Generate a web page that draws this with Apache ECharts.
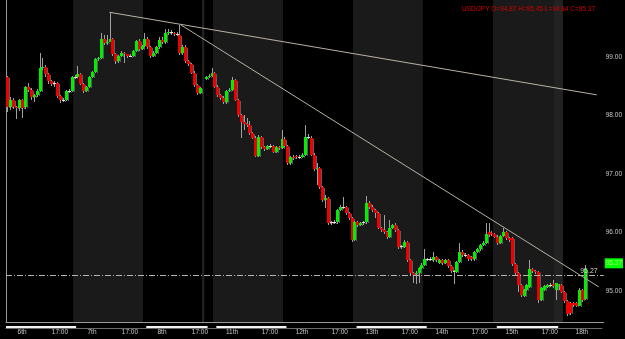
<!DOCTYPE html>
<html>
<head>
<meta charset="utf-8">
<script src="https://cdn.jsdelivr.net/npm/echarts@6/dist/echarts.min.js"></script>
<style>
  html, body { margin: 0; background: #000; }
  #chart { width: 625px; height: 339px; }
</style>
</head>
<body>
<div id="chart"></div>
<script>
// USD/JPY hourly candles [open, close, low, high], one array per day band
const day6 = [
  [98.66, 98.14, 98.06, 98.67], [98.14, 98.27, 98.09, 98.31], [98.27, 98.14, 98.10, 98.29],
  [98.14, 98.12, 97.93, 98.16], [98.12, 98.26, 98.08, 98.28], [98.26, 98.12, 97.95, 98.28],
  [98.14, 98.48, 98.10, 98.50], [98.48, 98.44, 98.40, 98.55], [98.44, 98.31, 98.27, 98.46],
  [98.31, 98.35, 98.23, 98.37], [98.35, 98.42, 98.32, 98.45], [98.42, 98.80, 98.40, 99.07],
  [98.80, 98.83, 98.78, 98.98], [98.83, 98.70, 98.66, 98.86], [98.70, 98.58, 98.53, 98.72],
  [98.58, 98.54, 98.50, 98.60], [98.54, 98.55, 98.48, 98.58], [98.55, 98.33, 98.30, 98.57],
  [98.33, 98.26, 98.21, 98.34], [98.26, 98.27, 98.22, 98.30], [98.27, 98.42, 98.25, 98.44],
  [98.42, 98.42, 98.39, 98.45], [98.42, 98.65, 98.40, 98.67]
];
const day7 = [
  [98.65, 98.66, 98.62, 98.69], [98.66, 98.70, 98.64, 98.84], [98.70, 98.54, 98.52, 98.72],
  [98.54, 98.42, 98.38, 98.55], [98.42, 98.48, 98.40, 98.50], [98.48, 98.65, 98.46, 98.67],
  [98.65, 98.74, 98.63, 98.76], [98.74, 98.96, 98.72, 98.98], [98.96, 98.98, 98.93, 99.00],
  [98.98, 99.31, 98.97, 99.40], [99.31, 99.24, 99.20, 99.38], [99.24, 99.26, 99.20, 99.38],
  [99.26, 99.30, 99.25, 99.76], [99.30, 99.05, 99.02, 99.32], [99.05, 98.92, 98.88, 99.07],
  [98.92, 99.01, 98.90, 99.03], [99.01, 99.06, 99.00, 99.10], [99.06, 99.04, 98.90, 99.08],
  [99.04, 99.02, 98.98, 99.05], [99.02, 99.02, 98.99, 99.05], [99.02, 99.10, 99.00, 99.12],
  [99.10, 99.27, 99.08, 99.29], [99.27, 99.13, 99.10, 99.30], [99.13, 99.18, 99.11, 99.20]
];
const day8 = [
  [99.18, 99.30, 99.16, 99.40], [99.30, 99.17, 99.14, 99.33], [99.17, 99.02, 98.98, 99.19],
  [99.02, 99.06, 98.99, 99.10], [99.06, 99.16, 99.04, 99.18], [99.16, 99.29, 99.14, 99.34],
  [99.29, 99.25, 99.21, 99.33], [99.25, 99.40, 99.22, 99.47], [99.40, 99.42, 99.37, 99.47],
  [99.42, 99.41, 99.38, 99.45], [99.41, 99.39, 99.36, 99.43], [99.39, 99.38, 99.35, 99.42],
  [99.38, 99.06, 99.03, 99.55], [99.06, 99.17, 99.03, 99.20], [99.17, 98.92, 98.89, 99.20],
  [98.92, 98.88, 98.84, 98.95], [98.88, 98.73, 98.70, 98.90], [98.73, 98.51, 98.48, 98.75],
  [98.51, 98.38, 98.34, 98.53], [98.38, 98.46, 98.36, 98.48], null,
  [98.62, 98.66, 98.60, 98.68], [98.66, 98.68, 98.63, 98.70], [98.68, 98.72, 98.66, 98.81]
];
const day11 = [
  [98.72, 98.49, 98.46, 98.74], [98.49, 98.34, 98.31, 98.51], [98.34, 98.30, 98.27, 98.36],
  [98.30, 98.22, 98.19, 98.33], [98.22, 98.42, 98.20, 98.44], [98.42, 98.44, 98.40, 98.46],
  [98.44, 98.60, 98.42, 98.66], [98.60, 98.26, 98.24, 98.62], [98.26, 98.01, 97.98, 98.28],
  [98.01, 97.88, 97.61, 98.03], [97.88, 97.86, 97.75, 98.00], [97.86, 97.84, 97.80, 97.95],
  [97.84, 97.69, 97.66, 97.90], [97.69, 97.62, 97.59, 97.72], [97.62, 97.31, 97.28, 97.64],
  [97.31, 97.63, 97.29, 97.66], [97.63, 97.46, 97.43, 97.65], [97.46, 97.42, 97.39, 97.48],
  [97.42, 97.48, 97.40, 97.50], [97.48, 97.47, 97.44, 97.51], [97.47, 97.38, 97.35, 97.49],
  [97.38, 97.46, 97.36, 97.48], [97.46, 97.44, 97.41, 97.48], [97.44, 97.60, 97.42, 97.75]
];
const day12 = [
  [97.60, 97.48, 97.46, 97.63], [97.48, 97.18, 97.15, 97.50], [97.18, 97.29, 97.16, 97.31],
  [97.29, 97.27, 97.24, 97.32], [97.30, 97.28, 97.25, 97.33], [97.28, 97.29, 97.25, 97.32],
  [97.29, 97.33, 97.27, 97.35], [97.33, 97.63, 97.31, 97.83], [97.63, 97.62, 97.59, 97.68],
  [97.62, 97.33, 97.30, 97.64], [97.33, 97.08, 97.05, 97.35], [97.08, 97.10, 96.81, 97.19],
  [97.10, 96.78, 96.75, 97.12], [96.78, 96.55, 96.52, 96.80], [96.55, 96.58, 96.42, 96.64],
  [96.58, 96.16, 96.13, 96.60], [96.16, 96.17, 96.13, 96.20], [96.17, 96.18, 96.14, 96.22],
  [96.18, 96.38, 96.15, 96.40], [96.38, 96.44, 96.36, 96.47], [96.44, 96.43, 96.40, 96.60],
  [96.43, 96.33, 96.30, 96.45], [96.33, 96.25, 96.22, 96.35], [96.25, 95.87, 95.83, 96.27]
];
const day13 = [
  [95.87, 96.18, 95.85, 96.20], [96.18, 96.13, 96.10, 96.20], [96.13, 96.16, 96.11, 96.18],
  [96.16, 96.17, 96.13, 96.20], [96.17, 96.50, 96.15, 96.62], [96.50, 96.43, 96.40, 96.53],
  [96.43, 96.38, 96.35, 96.46], [96.38, 96.33, 96.24, 96.40], [96.33, 96.08, 96.05, 96.35],
  [96.08, 96.04, 96.00, 96.10], [96.04, 96.01, 95.97, 96.30], [96.01, 95.92, 95.89, 96.03],
  [95.92, 96.08, 95.90, 96.22], [96.08, 96.13, 96.06, 96.15], [96.13, 96.04, 96.01, 96.16],
  [96.04, 95.75, 95.72, 96.06], [95.75, 95.76, 95.72, 95.79], [95.75, 95.84, 95.73, 95.87],
  [95.84, 95.53, 95.50, 95.86], [95.53, 95.31, 95.28, 95.55], [95.30, 95.28, 95.14, 95.33],
  [95.29, 95.31, 95.12, 95.34], [95.31, 95.39, 95.14, 95.41], [95.39, 95.44, 95.37, 95.47]
];
const day14 = [
  [95.44, 95.55, 95.42, 95.72], [95.55, 95.54, 95.51, 95.57], [95.54, 95.55, 95.51, 95.58],
  [95.53, 95.58, 95.50, 95.67], [95.58, 95.53, 95.50, 95.60], [95.48, 95.53, 95.46, 95.55],
  [95.53, 95.48, 95.45, 95.55], [95.48, 95.53, 95.46, 95.55], [95.53, 95.43, 95.40, 95.55],
  [95.43, 95.34, 95.31, 95.45], [95.34, 95.33, 95.12, 95.36], [95.33, 95.50, 95.31, 95.52],
  [95.50, 95.67, 95.48, 95.82], [95.67, 95.61, 95.58, 95.70], [95.61, 95.62, 95.58, 95.65],
  [95.62, 95.55, 95.52, 95.64], [95.58, 95.54, 95.51, 95.60], [95.54, 95.67, 95.52, 95.69],
  [95.67, 95.71, 95.65, 95.73], [95.71, 95.79, 95.69, 95.81], [95.79, 95.82, 95.77, 95.86],
  [95.82, 95.97, 95.80, 96.16], [96.01, 95.95, 95.92, 96.16], [95.99, 95.97, 95.94, 96.02]
];
const day15 = [
  [95.97, 95.93, 95.90, 95.99], [95.93, 95.82, 95.79, 95.95], [95.82, 95.94, 95.80, 95.96],
  [95.94, 96.01, 95.92, 96.07], [96.01, 95.90, 95.87, 96.03], [95.90, 95.87, 95.84, 95.92],
  [95.90, 95.46, 95.43, 95.92], [95.46, 95.30, 95.27, 95.48], [95.30, 95.10, 94.99, 95.32],
  [95.10, 94.93, 94.90, 95.12], [94.91, 95.02, 94.89, 95.04], [95.02, 95.10, 95.00, 95.12],
  [95.07, 95.37, 95.05, 95.53], [95.37, 95.34, 95.31, 95.39], [95.34, 95.32, 95.29, 95.36],
  [95.32, 94.85, 94.80, 95.34], [94.85, 95.05, 94.83, 95.07], [95.02, 95.09, 95.00, 95.11],
  [95.07, 95.10, 95.05, 95.12], [95.10, 95.11, 95.07, 95.13], [95.12, 95.08, 95.05, 95.19],
  [95.02, 95.13, 94.85, 95.14], [95.08, 95.10, 95.02, 95.12], [95.10, 94.98, 94.96, 95.12]
];
const day18 = [
  [94.98, 94.83, 94.80, 95.00], [94.83, 94.61, 94.57, 94.85], [94.80, 94.62, 94.59, 94.82],
  [94.80, 94.76, 94.72, 94.82], [94.80, 94.75, 94.72, 94.82], [94.75, 95.02, 94.74, 95.05],
  [95.02, 94.85, 94.82, 95.04], [94.87, 95.37, 94.84, 95.45]
];

const dayLabels = ['6th', '7th', '8th', '11th', '12th', '13th', '14th', '15th', '18th'];
const hourLabel = '17:00';
const slotCount = 205;                       // hourly slots on the time axis
const shadedDays = [[23, 47], [71, 95], [119, 143], [167, 191]];
const weekendGaps = [[67.2, 68], [188, 191]];
const sessionBars = [[0, 24], [48, 69], [72, 96], [120, 144], [168, 189]];
const lastTrade = 95.27;
// trend lines: [slot, price] start and end
const trendLines = [
  [[35.5, 99.76], [202.6, 98.35]],
  [[59.8, 99.55], [203.3, 95.07]]
];

const UP = '#00ee00';
const DOWN = '#ee0000';
const TEXT = '#c8c8c8';
const FONT = 'Liberation Sans';

const candles = [].concat(day6, day7, day8, day11, day12, day13, day14, day15, day18);
const candleData = [];
candles.forEach((c, i) => { if (c) candleData.push([i, c[0], c[1], c[2], c[3]]); });
const last = candles[candles.length - 1];

const slotNames = [];
const xLabels = {};
for (let i = 0; i < slotCount; i++) slotNames.push('s' + i);
dayLabels.forEach((d, k) => {
  xLabels[24 * k + 5] = d;
  if (24 * k + 18 < slotCount) xLabels[24 * k + 18] = hourLabel;
});

const dom = document.getElementById('chart');
const myChart = echarts.init(dom, null, { renderer: 'canvas' });

function renderCandle(params, api) {
  const i = api.value(0);
  const o = api.value(1), c = api.value(2), l = api.value(3), h = api.value(4);
  const top = api.coord([i, Math.max(o, c)]);
  const bot = api.coord([i, Math.min(o, c)]);
  const hi = api.coord([i, h]);
  const lo = api.coord([i, l]);
  const x = Math.round(top[0]);
  const y1 = Math.round(top[1]);
  const y2 = Math.max(Math.round(bot[1]), y1 + 1);
  const flat = Math.abs(o - c) < 0.015;
  const fill = flat ? '#e4e4e4' : (c > o ? UP : DOWN);
  return {
    type: 'group',
    children: [
      { type: 'rect', shape: { x: x, y: Math.round(hi[1]), width: 1, height: Math.round(lo[1]) - Math.round(hi[1]) }, style: { fill: '#a0a0a0' } },
      { type: 'rect', shape: { x: x + 2, y: y1 + 1, width: 1, height: y2 - y1 }, style: { fill: '#5c5c5c' } },
      { type: 'rect', shape: { x: x - 1, y: y1, width: 3, height: y2 - y1 }, style: { fill: fill } }
    ]
  };
}

const option = {
  animation: false,
  backgroundColor: '#000',
  textStyle: { fontFamily: FONT },
  title: {
    text: 'USD/JPY O=' + last[0].toFixed(2) + ' H=' + last[3].toFixed(2) +
      ' L=' + last[2].toFixed(2) + ' C=' + last[1].toFixed(2),
    right: 25,
    top: 1,
    textStyle: { color: '#d40000', fontSize: 6.5, fontWeight: 'normal', fontFamily: FONT }
  },
  grid: [
    { left: 6, right: 20, top: 0, bottom: 17 },
    { left: 6, right: 23, top: 326, height: 2 }
  ],
  xAxis: [
    {
      type: 'category', gridIndex: 0, data: slotNames, boundaryGap: true,
      axisLine: { show: true, lineStyle: { color: '#9a9a9a' } },
      axisTick: { show: false },
      splitLine: { show: false },
      axisLabel: {
        interval: (idx) => xLabels[idx] !== undefined,
        formatter: (v, idx) => xLabels[idx] || '',
        color: TEXT, fontSize: 6.5, margin: 7, fontFamily: FONT
      }
    },
    { type: 'value', gridIndex: 0, min: 0, max: slotCount, show: false },
    {
      type: 'value', gridIndex: 1, min: 0, max: slotCount - 1,
      axisLine: { show: true, onZero: false, lineStyle: { color: '#6a6a6a' } },
      axisTick: { show: false }, axisLabel: { show: false }, splitLine: { show: false }
    }
  ],
  yAxis: [
    {
      type: 'value', gridIndex: 0, position: 'right', min: 94.47, max: 99.97, scale: true,
      axisLine: { show: true, lineStyle: { color: '#bdbdbd' } },
      axisTick: { show: false },
      splitLine: { show: false },
      axisLabel: {
        color: TEXT, fontSize: 6.5, margin: 2, fontFamily: FONT,
        showMinLabel: false, showMaxLabel: false,
        formatter: (v) => v.toFixed(2)
      }
    },
    {
      type: 'value', gridIndex: 0, position: 'left', min: 94.47, max: 99.97, scale: true,
      axisLine: { show: true, lineStyle: { color: '#9a9a9a' } },
      axisTick: { show: false }, axisLabel: { show: false }, splitLine: { show: false }
    },
    { type: 'value', gridIndex: 1, min: 0, max: 1, show: false }
  ],
  series: [
    {
      type: 'line', xAxisIndex: 1, yAxisIndex: 0, data: [], z: 0, silent: true,
      markArea: {
        silent: true,
        data: shadedDays.map(([a, b]) => [{ xAxis: a, itemStyle: { color: '#1a1a1a' } }, { xAxis: b }])
          .concat(weekendGaps.map(([a, b]) => [{ xAxis: a, itemStyle: { color: '#222222' } }, { xAxis: b }]))
      }
    },
    {
      type: 'line', xAxisIndex: 1, yAxisIndex: 0, data: [], z: 1, silent: true,
      markLine: {
        silent: true, symbol: ['none', 'none'],
        data: [{
          yAxis: lastTrade,
          lineStyle: { color: '#b4b4b4', width: 1, type: [6, 2, 1, 2] },
          label: {
            show: true, position: 'insideEndTop', formatter: lastTrade.toFixed(2),
            color: '#d0d0d0', fontSize: 7, distance: 1, padding: [0, 5, 0, 0], fontFamily: FONT
          }
        }]
      }
    },
    {
      type: 'custom', xAxisIndex: 0, yAxisIndex: 0, z: 2, silent: true,
      renderItem: renderCandle,
      encode: { x: 0, y: [1, 2, 3, 4] },
      data: candleData,
      clip: true
    },
    {
      type: 'line', xAxisIndex: 1, yAxisIndex: 0, data: [], z: 3, silent: true,
      markLine: {
        silent: true, symbol: ['none', 'none'],
        lineStyle: { color: '#b8b2a2', width: 1, type: 'solid' },
        label: { show: false },
        data: trendLines.map(([a, b]) => [{ coord: a }, { coord: b }])
      }
    },
    {
      type: 'line', xAxisIndex: 1, yAxisIndex: 0, data: [], z: 4, silent: true,
      markLine: {
        silent: true, symbol: ['none', 'none'],
        data: [{
          yAxis: last[1],
          lineStyle: { color: 'rgba(0,0,0,0)', width: 1 },
          label: {
            show: true, position: 'end', formatter: last[1].toFixed(2),
            backgroundColor: '#00ff00', color: '#a8ff70', fontSize: 6.5,
            padding: [2, 1, 1, 1], distance: 1, offset: [0, -6], fontFamily: FONT
          }
        }]
      }
    },
    {
      type: 'line', xAxisIndex: 2, yAxisIndex: 2, data: [], z: 1, silent: true,
      markArea: {
        silent: true,
        itemStyle: { color: '#f2f2f2' },
        data: sessionBars.map(([a, b]) => [{ xAxis: a }, { xAxis: b }])
      }
    }
  ]
};

myChart.setOption(option);
</script>
</body>
</html>
